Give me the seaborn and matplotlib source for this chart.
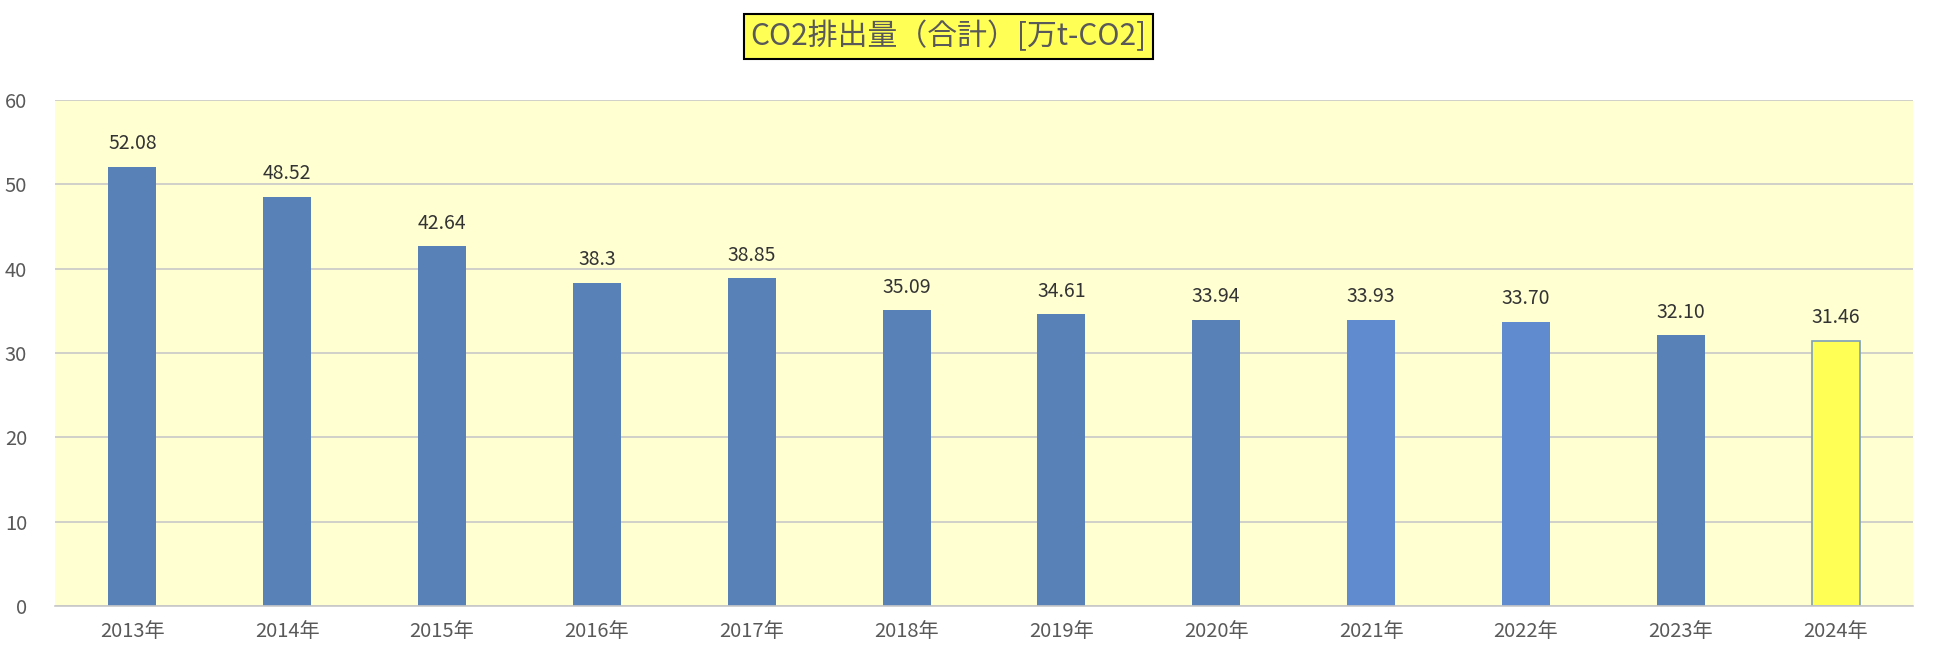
import pandas as pd
import seaborn as sns
import matplotlib.pyplot as plt

years = ['2013年', '2014年', '2015年', '2016年', '2017年', '2018年',
         '2019年', '2020年', '2021年', '2022年', '2023年', '2024年']
values = [52.08, 48.52, 42.64, 38.3, 38.85, 35.09,
          34.61, 33.94, 33.93, 33.70, 32.10, 31.46]
labels = ['52.08', '48.52', '42.64', '38.3', '38.85', '35.09',
          '34.61', '33.94', '33.93', '33.70', '32.10', '31.46']

sns.set_theme(style="whitegrid")
plt.rcParams['font.family'] = ['Noto Sans CJK JP', 'DejaVu Sans']

df = pd.DataFrame({'year': years, 'value': values})
colors = ['#5881b8'] * 8 + ['#608bcf', '#608bcf', '#5881b8', '#ffff55']

fig = plt.figure(figsize=(19.35, 6.62), dpi=100)
ax = fig.add_axes([0.0284, 0.0846, 0.9602, 0.7644])
sns.barplot(data=df, x='year', y='value', hue='year', palette=colors,
            legend=False, width=0.31, ax=ax, saturation=1)
for i, p in enumerate(ax.patches):
    if i == 11:
        p.set_edgecolor('#7fa0b8')
        p.set_linewidth(1.2)
    else:
        p.set_edgecolor('none')

for i, (v, t) in enumerate(zip(values, labels)):
    ax.annotate(t, (i, v), xytext=(0, 9), textcoords='offset points',
                ha='center', va='bottom', fontsize=14, color='#333333')

ax.set_facecolor('#ffffd2')
ax.set_ylim(0, 60)
ax.set_xlim(-0.5, 11.5)
ax.set_yticks(range(0, 61, 10))
ax.grid(axis='y', color='#c8c8c8', linewidth=1.2)
ax.grid(axis='x', visible=False)
for s in ['top', 'right', 'left']:
    ax.spines[s].set_visible(False)
ax.spines['bottom'].set_color('#c8c8c8')
ax.spines['bottom'].set_linewidth(1.2)
ax.set_xlabel('')
ax.set_ylabel('')
ax.tick_params(axis='both', labelsize=14.5, colors='#595959', length=0)
ax.tick_params(axis='x', pad=11)
ax.tick_params(axis='y', pad=20)

fig.text(0.49, 0.945, 'CO2排出量（合計）[万t-CO2]', ha='center', va='center',
         fontsize=21.5, color='#595959',
         bbox=dict(boxstyle='square,pad=0.22', facecolor='#ffff55',
                   edgecolor='black', linewidth=1.5))

fig.savefig('out.png', dpi=100, facecolor='white')
